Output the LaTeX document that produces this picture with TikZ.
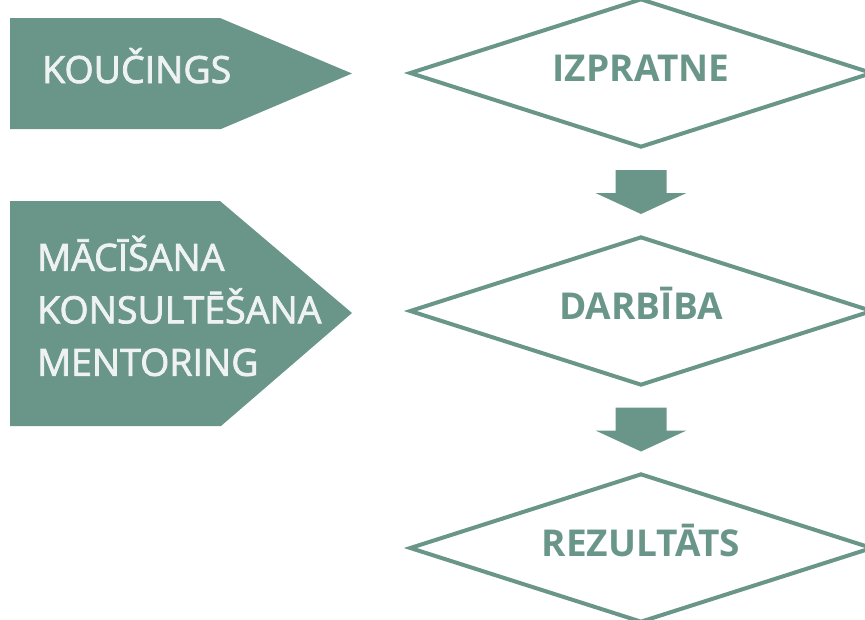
\documentclass[tikz,border=0pt]{standalone}
\usepackage{fontspec}
\setmainfont{Open Sans}
\usepackage{xcolor}
\usepackage{tikz}
\usetikzlibrary{positioning, calc, shapes.geometric}
\definecolor{SageTeal}{HTML}{6A968A}
\definecolor{SageLight}{HTML}{EEF3F1}

\begin{document}
\begin{tikzpicture}[x=1pt, y=-1pt,
  tagtext/.style={text=SageLight, inner sep=0pt, align=left,
    font=\fontsize{37.5}{52.5}\selectfont\addfontfeature{FakeBold=2}},
  stage/.style={diamond, draw=SageTeal, line width=4pt, aspect=3.1, inner sep=0pt,
    minimum width=463pt, minimum height=149pt, text=SageTeal,
    text height=27pt, text depth=10pt, font=\bfseries\fontsize{37}{40}\selectfont}]
  \useasboundingbox (0,0) rectangle (865,619);
  % left tags
  \fill[SageTeal] (10,18) -- (220,18) -- (352,73.5) -- (221,129) -- (10,129) -- cycle;
  \node[tagtext, anchor=base west] (kouc) at (42,83) {KOUČINGS};
  \fill[SageTeal] (10,201) -- (220,201) -- (352,313) -- (221,426) -- (10,426) -- cycle;
  \node[tagtext, anchor=west] (maci) at (37,306) {MĀCĪŠANA\\KONSULTĒŠANA\\MENTORING};
  % stages
  \node[stage] (izpr) at (641,73) {IZPRATNE};
  \node[stage] (darb) at (641,311) {DARBĪBA};
  \node[stage] (rezu) at (641,548) {REZULTĀTS};
  \foreach \a/\b in {izpr/darb, darb/rezu}{
    \coordinate (m) at ($(\a.south)!0.5!(\b.north)$);
    \fill[SageTeal] ($(m)+(-25.5,-22)$) -- ($(m)+(25.5,-22)$) -- ($(m)+(25.5,1)$)
      -- ($(m)+(45.5,1)$) -- ($(m)+(0,22)$) -- ($(m)+(-45.5,1)$) -- ($(m)+(-25.5,1)$) -- cycle;
  }
\end{tikzpicture}
\end{document}
